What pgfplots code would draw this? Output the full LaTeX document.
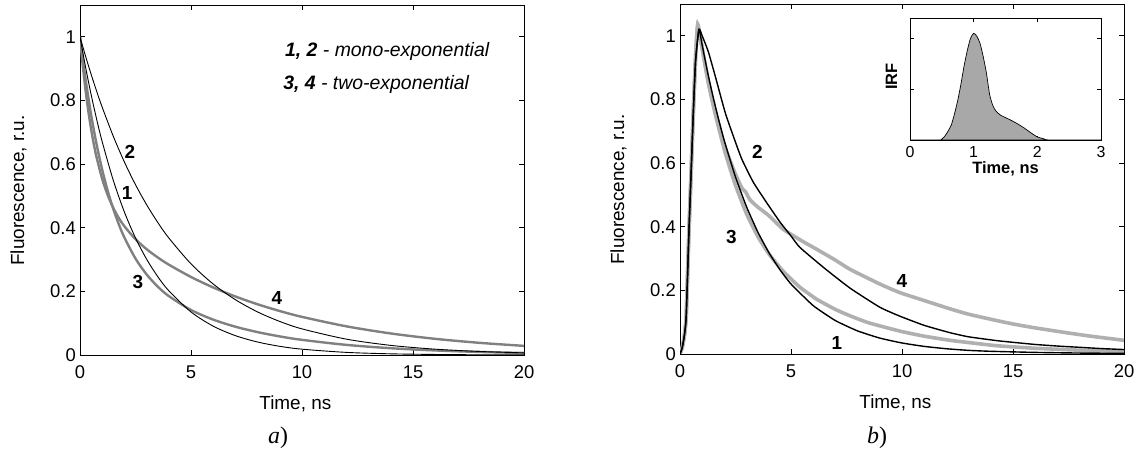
\documentclass[border=0pt]{standalone}
\usepackage{pgfplots}
\pgfplotsset{compat=1.18}
\usepackage{fontspec}
\setmainfont{Liberation Sans}
\newfontfamily\timesf{Liberation Serif}
\definecolor{lgray}{RGB}{128,128,128}
\definecolor{rgray}{RGB}{176,176,176}
\definecolor{irfgray}{RGB}{168,168,168}
\pgfplotsset{
  mainax/.style={
    scale only axis, width=444bp, height=350bp,
    xmin=0, xmax=20, ymin=0, ymax=1.1,
    xtick={0,5,10,15,20}, ytick={0,0.2,0.4,0.6,0.8,1},
    tick align=inside, major tick length=5bp,
    tick style={black, line width=0.7bp},
    axis line style={line width=0.8bp},
    /pgf/number format/assume math mode=true,
    ticklabel style={font=\fontsize{18.5}{20}\selectfont},
    xticklabel style={inner sep=0pt, yshift=-10.5bp},
    yticklabel style={inner sep=0pt, xshift=-4bp},
    label style={font=\fontsize{19}{22}\selectfont},
    xlabel={Time, ns}, ylabel={Fluorescence, r.u.},
    xlabel style={at={(axis description cs:0.485,-0.14)}, anchor=center},
    ylabel style={at={(axis description cs:-0.1385,0.47)}, anchor=center},
    clip=true,
  },
}
\tikzset{lab/.style={font=\fontsize{19}{22}\selectfont\bfseries, inner sep=0pt}}
\begin{document}
\begin{tikzpicture}
\useasboundingbox (0,0) rectangle (1136bp,451bp);
% ---------------- panel a ----------------
\begin{axis}[mainax, at={(80bp,96bp)}, anchor=south west]
% curve 3 (two-exponential)
\addplot[lgray, line width=2.4bp, smooth] coordinates {
(0,1) (0.1,0.9439) (0.25,0.8667) (0.5,0.7552) (0.75,0.6613) (1,0.5823) (1.25,0.5155)
(1.5,0.4588) (1.75,0.4105) (2,0.3692) (2.5,0.3031) (3,0.2533) (3.5,0.2151) (4,0.1852)
(5,0.1415) (6,0.1112) (7,0.0889) (8,0.0719) (9,0.0584) (10,0.0476) (12,0.0318)
(14,0.0213) (16,0.0143) (18,0.0096) (20,0.0064)};
% curve 4 (two-exponential)
\addplot[lgray, line width=2.4bp, smooth] coordinates {
(0,1) (0.1,0.9263) (0.25,0.8324) (0.375,0.7666) (0.5,0.7103) (0.625,0.662) (0.75,0.6205)
(1,0.5532) (1.25,0.5021) (1.5,0.4622) (1.75,0.4304) (2,0.4045) (2.5,0.3640) (3,0.3326)
(3.5,0.3067) (4,0.2840) (5,0.2452) (6,0.2122) (7,0.1839) (8,0.1594) (9,0.1382)
(10,0.1198) (12,0.0901) (14,0.0677) (16,0.0508) (18,0.0382) (20,0.0287)};
% curve 1 (mono-exponential)
\addplot[black, line width=0.9bp, smooth] coordinates {
(0,1) (0.25,0.9048) (0.5,0.8187) (0.75,0.7408) (1,0.6703) (1.5,0.5488) (2,0.4493)
(2.5,0.3679) (3,0.3012) (3.5,0.2466) (4,0.2019) (5,0.1353) (6,0.0907) (7,0.0608)
(8,0.0408) (9,0.0273) (10,0.0183) (12,0.0082) (14,0.0037) (16,0.0017) (18,0.0007) (20,0.0003)};
% curve 2 (mono-exponential)
\addplot[black, line width=0.9bp, smooth] coordinates {
(0,1) (0.25,0.9394) (0.5,0.8825) (0.75,0.8290) (1,0.7788) (1.5,0.6873) (2,0.6065)
(2.5,0.5353) (3,0.4724) (3.5,0.4169) (4,0.3679) (5,0.2865) (6,0.2231) (7,0.1738)
(8,0.1353) (9,0.1054) (10,0.0821) (12,0.0498) (14,0.0302) (16,0.0183) (18,0.0111) (20,0.0067)};
\node[lab] at (axis cs:2.25,0.638) {2};
\node[lab] at (axis cs:2.12,0.51) {1};
\node[lab] at (axis cs:2.61,0.23) {3};
\node[lab] at (axis cs:8.87,0.18) {4};
\node[anchor=west, inner sep=0pt, font=\fontsize{19.5}{22}\selectfont] at (axis cs:9.23,0.955)
  {{\bfseries\itshape 1, 2}\itshape\ - mono-exponential};
\node[anchor=west, inner sep=0pt, font=\fontsize{19.5}{22}\selectfont] at (axis cs:9.15,0.85)
  {{\bfseries\itshape 3, 4}\itshape\ - two-exponential};
\end{axis}
% ---------------- panel b ----------------
\begin{axis}[mainax, at={(680bp,97bp)}, anchor=south west]
% curve 3 (gray)
\addplot[rgray, line width=3.6bp, smooth, tension=0.3] coordinates {
(0,0) (0.1,0.02) (0.2,0.06) (0.28,0.12) (0.4,0.38) (0.5,0.57) (0.6,0.76) (0.7,0.93) (0.8,1.035)
(1.0,0.96) (1.28,0.85) (1.6,0.75) (2.03,0.634) (2.5,0.53) (3,0.44) (3.5,0.37) (4,0.315)
(4.65,0.26) (5.4,0.21) (6.16,0.172) (7,0.14) (7.66,0.12) (8.5,0.098) (9.9,0.072) (11,0.056)
(12.16,0.043) (13,0.036) (14.27,0.026) (16,0.018) (18,0.012) (20,0.008)};
% curve 4 (gray)
\addplot[rgray, line width=3.6bp, smooth, tension=0.3] coordinates {
(0,0) (0.1,0.02) (0.2,0.06) (0.28,0.12) (0.4,0.38) (0.5,0.57) (0.6,0.76) (0.7,0.93) (0.8,1.035)
(1.0,0.96) (1.28,0.855) (1.6,0.76) (2.03,0.65) (2.5,0.565) (2.8,0.52) (2.95,0.51) (3.15,0.485)
(3.5,0.462) (4,0.435) (4.65,0.392) (5.5,0.355) (6.16,0.329) (7,0.295) (7.66,0.266) (9,0.22)
(9.9,0.193) (11,0.168) (12.16,0.142) (13,0.125) (14.27,0.105) (15.1,0.093) (16,0.082)
(17.4,0.067) (18.5,0.056) (20,0.043)};
% curve 1 (black)
\addplot[black, line width=1.4bp, smooth, tension=0.3] coordinates {
(0,0) (0.1,0.02) (0.2,0.06) (0.28,0.12) (0.4,0.38) (0.5,0.57) (0.6,0.76) (0.7,0.92) (0.85,1.02)
(1.0,0.97) (1.25,0.883) (1.5,0.805) (1.75,0.734) (2,0.669) (2.5,0.556) (3,0.462) (3.5,0.384)
(4,0.319) (4.5,0.265) (5,0.220) (6,0.152) (7,0.105) (8,0.0725) (9,0.050) (10,0.0346)
(11,0.0239) (12,0.0165) (13,0.0114) (14,0.0085) (16,0.005) (18,0.003) (20,0.002)};
% curve 2 (black)
\addplot[black, line width=1.4bp, smooth, tension=0.3] coordinates {
(0,0) (0.1,0.02) (0.2,0.06) (0.28,0.12) (0.4,0.38) (0.5,0.57) (0.6,0.76) (0.7,0.92) (0.85,1.02)
(1.0,1.0) (1.28,0.949) (1.6,0.87) (2.03,0.76) (2.4,0.685) (2.78,0.613) (3.3,0.54) (3.9,0.476)
(4.5,0.415) (5.0,0.371) (5.4,0.335) (6.5,0.27) (7.66,0.207) (9,0.147) (9.9,0.119) (11,0.09)
(12.16,0.067) (13,0.054) (14.27,0.042) (15.1,0.036) (16,0.030) (17,0.025) (18,0.021)
(19,0.017) (20,0.014)};
\node[lab] at (axis cs:3.48,0.636) {2};
\node[lab] at (axis cs:2.32,0.368) {3};
\node[lab] at (axis cs:10.0,0.231) {4};
\node[lab] at (axis cs:7.07,0.035) {1};
\end{axis}
% ---------------- inset ----------------
\begin{axis}[scale only axis, width=191bp, height=122bp, at={(910bp,311bp)}, anchor=south west,
  xmin=0, xmax=3, ymin=0, ymax=1.2, xtick={0,1,2,3}, ytick={0.5,1}, yticklabels={},
  tick align=inside, major tick length=4bp, tick style={black, line width=0.7bp},
  axis line style={line width=0.8bp},
  axis background/.style={fill=white},
  /pgf/number format/assume math mode=true,
  xticklabel style={font=\fontsize{16}{18}\selectfont, inner sep=0pt, yshift=-6.5bp},
  xlabel={Time, ns}, ylabel={IRF},
  label style={font=\fontsize{16.5}{19}\selectfont\bfseries},
  xlabel style={at={(axis description cs:0.5,-0.238)}, anchor=center},
  ylabel style={at={(axis description cs:-0.097,0.52)}, anchor=center}]
\addplot[fill=irfgray, draw=black, line width=0.7bp, smooth, tension=0.4] coordinates {
(0,0) (0.45,0) (0.5,0.01) (0.55,0.04) (0.6,0.09) (0.65,0.15) (0.7,0.26) (0.75,0.39) (0.8,0.55)
(0.85,0.73) (0.9,0.88) (0.95,1.0) (1.0,1.05) (1.05,1.02) (1.1,0.95) (1.15,0.82) (1.2,0.66)
(1.25,0.45) (1.3,0.34) (1.35,0.285) (1.42,0.245) (1.5,0.22) (1.6,0.19) (1.7,0.155) (1.8,0.115)
(1.9,0.07) (2.0,0.03) (2.1,0.012) (2.2,0) (3,0)} \closedcycle;
\end{axis}
% ---------------- panel captions ----------------
\node[font=\timesf\fontsize{24}{26}\selectfont] at (278bp,13bp) {\itshape a\/\upshape)};
\node[font=\timesf\fontsize{24}{26}\selectfont] at (877bp,13bp) {\itshape b\/\upshape)};
\end{tikzpicture}
\end{document}
